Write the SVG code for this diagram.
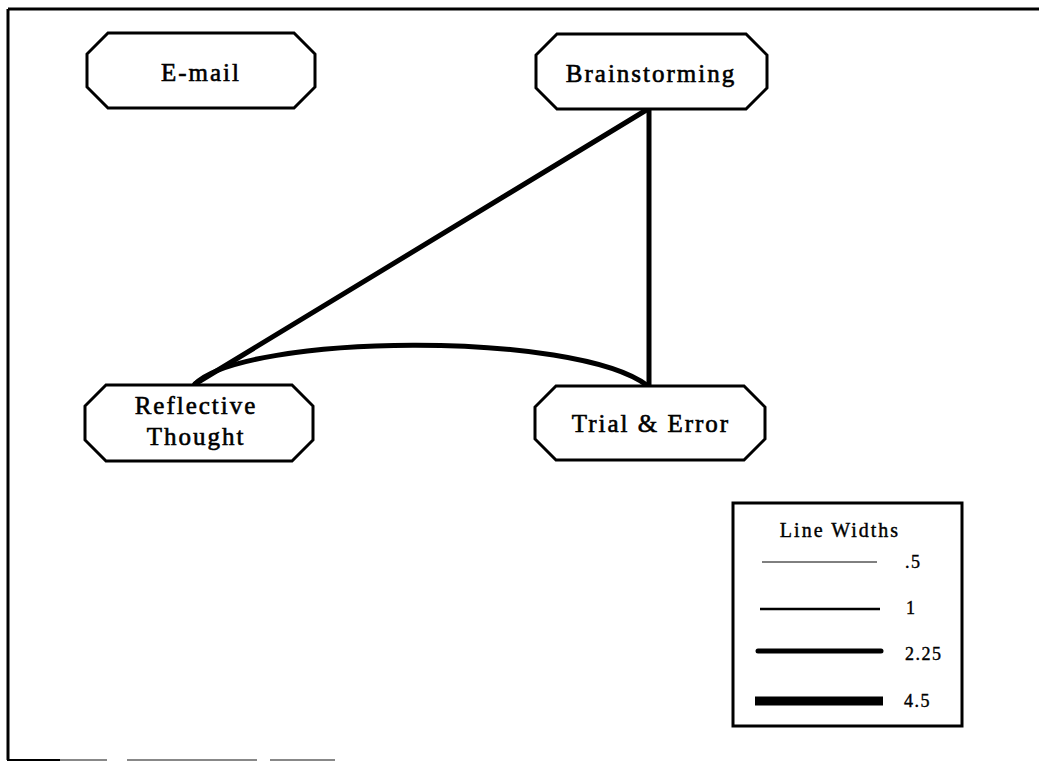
<svg xmlns="http://www.w3.org/2000/svg" width="1039" height="761" viewBox="0 0 1039 761">
<style>
.node{fill:#fff;stroke:#000;stroke-width:3;stroke-linejoin:miter}
.lbl{font-family:"Liberation Serif","Times New Roman",serif;font-size:25px;letter-spacing:2px;fill:#000;stroke:#000;stroke-width:0.6;text-anchor:middle}
.conn{fill:none;stroke:#000;stroke-width:5;stroke-linecap:round}
.leg{font-family:"Liberation Serif","Times New Roman",serif;fill:#000;stroke:#000;stroke-width:0.4}
.frame{stroke:#000;stroke-width:3;fill:none}
</style>
<rect width="1039" height="761" fill="#fff"/>
<g id="frame">
<line class="frame" x1="8" y1="9" x2="1039" y2="9"/>
<line class="frame" x1="8" y1="9" x2="8" y2="760"/>
<line x1="7" y1="760" x2="60" y2="760" stroke="#000" stroke-width="2"/>
<line x1="60" y1="760" x2="107" y2="760" stroke="#888" stroke-width="2"/>
<line x1="127" y1="760" x2="257" y2="760" stroke="#888" stroke-width="2"/>
<line x1="270" y1="760" x2="335" y2="760" stroke="#888" stroke-width="2"/>
</g>
<g id="connectors">
<line class="conn" x1="648" y1="109" x2="195" y2="384"/>
<line class="conn" x1="649" y1="109" x2="649" y2="386"/>
<path class="conn" d="M195,384 C245,334 575,330 648,386"/>
</g>
<g id="node-email">
<polygon class="node" points="108,33 294,33 315,54 315,87 294,108 108,108 87,87 87,54"/>
<text class="lbl" x="201" y="81">E-mail</text>
</g>
<g id="node-brainstorming">
<polygon class="node" points="557,34 746,34 767,55 767,88 746,109 557,109 536,88 536,55"/>
<text class="lbl" x="651" y="82">Brainstorming</text>
</g>
<g id="node-reflective">
<polygon class="node" points="106,385 292,385 313,406 313,440 292,461 106,461 85,440 85,406"/>
<text class="lbl" x="196" y="414">Reflective</text>
<text class="lbl" x="196" y="445">Thought</text>
</g>
<g id="node-trial">
<polygon class="node" points="556,386 744,386 765,407 765,439 744,460 556,460 535,439 535,407"/>
<text class="lbl" x="651" y="432">Trial &amp; Error</text>
</g>
<g id="legend">
<rect x="733" y="503" width="229" height="223" fill="#fff" stroke="#000" stroke-width="3"/>
<text class="leg" x="840" y="537" font-size="20" letter-spacing="2" text-anchor="middle">Line Widths</text>
<line x1="762" y1="562" x2="877" y2="562" stroke="#000" stroke-width="1"/>
<line x1="760" y1="609" x2="880" y2="609" stroke="#000" stroke-width="2.4"/>
<line x1="758" y1="651" x2="881" y2="651" stroke="#000" stroke-width="5" stroke-linecap="round"/>
<line x1="755" y1="701" x2="883" y2="701" stroke="#000" stroke-width="9"/>
<text class="leg" x="905" y="568" font-size="18" letter-spacing="1.5">.5</text>
<text class="leg" x="906" y="614" font-size="18">1</text>
<text class="leg" x="905" y="660" font-size="18" letter-spacing="1.5">2.25</text>
<text class="leg" x="904" y="707" font-size="18" letter-spacing="1.5">4.5</text>
</g>
</svg>
